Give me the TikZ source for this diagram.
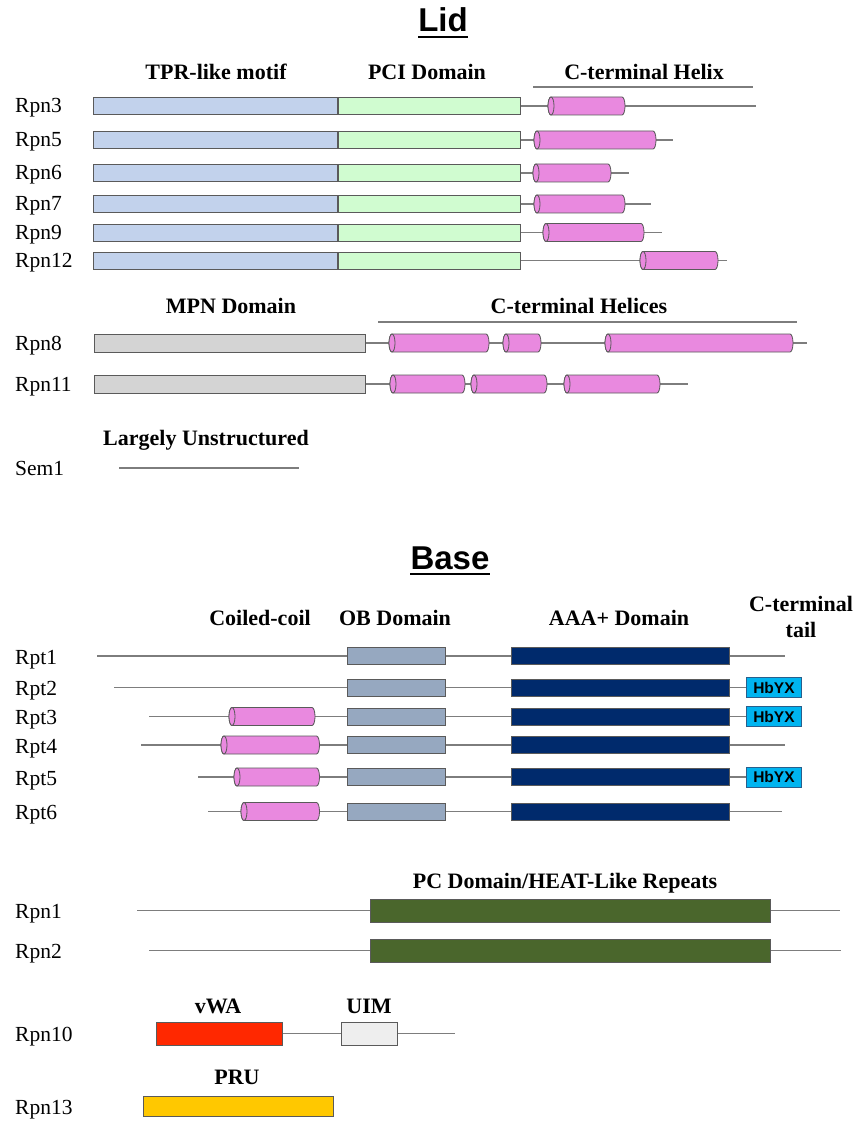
\documentclass[tikz,border=0pt]{standalone}
\usepackage{fontspec}
\setmainfont{Liberation Serif}
\setsansfont{Liberation Sans}
\usetikzlibrary{calc}
\pgfdeclarelayer{bg}
\pgfsetlayers{bg,main}
\definecolor{tpr}{RGB}{194,210,236}
\definecolor{pci}{RGB}{208,252,208}
\definecolor{helixpink}{RGB}{233,137,223}
\definecolor{mpn}{RGB}{212,212,212}
\definecolor{obc}{RGB}{150,168,192}
\definecolor{aaa}{RGB}{0,42,108}
\definecolor{hbfill}{RGB}{0,180,240}
\definecolor{hbedge}{RGB}{40,95,140}
\definecolor{pcg}{RGB}{74,102,44}
\definecolor{vwa}{RGB}{255,40,0}
\definecolor{uim}{RGB}{238,238,238}
\definecolor{pru}{RGB}{255,200,0}
\definecolor{bbgray}{RGB}{125,125,125}
\definecolor{edgegray}{RGB}{90,90,90}
\newcommand\helix[4]{%
  \draw[cyl] (#2+3,#4+9) -- (#3-3,#4+9) arc[start angle=90,end angle=-90,x radius=3,y radius=9] -- (#2+3,#4-9) arc[start angle=270,end angle=90,x radius=3,y radius=9] -- cycle;
  \draw[cyl] (#2+3,#4) ellipse[x radius=3,y radius=9];
  \coordinate (#1) at ({(#2+#3)/2},#4);
}
\begin{document}
\begin{tikzpicture}[x=1pt,y=1pt,
  lbl/.style={font=\fontsize{21.5}{22}\selectfont, anchor=base west, inner sep=0},
  hdr/.style={font=\bfseries\fontsize{22}{22}\selectfont, anchor=base, inner sep=0},
  ttl/.style={font=\sffamily\bfseries\fontsize{33}{33}\selectfont, anchor=base, inner sep=0},
  bb/.style={draw=bbgray, line width=1.3pt},
  hline/.style={draw=bbgray, line width=1.3pt},
  dom/.style={draw=edgegray, line width=0.9pt, anchor=west, inner sep=0, minimum height=17pt},
  cyl/.style={draw=edgegray, fill=helixpink, line width=0.8pt},
  hb/.style={draw=hbedge, fill=hbfill, line width=0.9pt, font=\sffamily\bfseries\fontsize{15.5}{15.5}\selectfont, minimum width=55pt, minimum height=20pt, inner sep=0, anchor=west}
]
\useasboundingbox (0,0) rectangle (855,-1123);
\begin{pgfonlayer}{bg}
\fill[white] (0,0) rectangle (855,-1123);
\end{pgfonlayer}

% ---------------- Lid ----------------
\node[ttl] (lid) at (443,-32) {Lid};
\draw[line width=2.4pt] ($(lid.base west)+(0,-5)$) -- ($(lid.base east)+(0,-5)$);

\node[hdr] (htpr) at (216,-80) {TPR-like motif};
\node[hdr] (hpci) at (427,-80) {PCI Domain};
\node[hdr] (hcth) at (644,-80) {C-terminal Helix};
\coordinate (hl1a) at (533,-87); \coordinate (hl1b) at (753,-87);
\draw[hline] (hl1a) -- (hl1b);

\foreach \n/\y/\a/\b/\e in {Rpn3/106/548/625/756, Rpn5/140/534/656/673, Rpn6/173/533/611/629, Rpn7/204/534/625/651, Rpn9/232.5/543/644/662, Rpn12/260.5/640/718/727}{
  \node[lbl] (l\n) at (15,-\y-7) {\n};
  \node[dom, fill=tpr, minimum width=244pt] (t\n) at (93,-\y) {};
  \node[dom, fill=pci, minimum width=182pt] (p\n) at (t\n.east) {};
  \coordinate (e\n) at (\e,-\y);
  \begin{pgfonlayer}{bg}\draw[bb] (p\n.east) -- (e\n);\end{pgfonlayer}
  \helix{h\n}{\a}{\b}{-\y}
}

\node[hdr] (hmpn) at (231,-313) {MPN Domain};
\node[hdr] (hcths) at (579,-313) {C-terminal Helices};
\coordinate (hl2a) at (378,-322); \coordinate (hl2b) at (797,-322);
\draw[hline] (hl2a) -- (hl2b);

% Rpn8
\node[lbl] (lRpn8) at (15,-350) {Rpn8};
\node[dom, fill=mpn, minimum width=271pt, minimum height=18pt] (mRpn8) at (94,-343) {};
\coordinate (eRpn8) at (807,-343);
\begin{pgfonlayer}{bg}\draw[bb] (mRpn8.east) -- (eRpn8);\end{pgfonlayer}
\helix{h8a}{389}{489}{-343}
\helix{h8b}{503}{541}{-343}
\helix{h8c}{605}{793}{-343}

% Rpn11
\node[lbl] (lRpn11) at (15,-391) {Rpn11};
\node[dom, fill=mpn, minimum width=271pt, minimum height=18pt] (mRpn11) at (94,-384) {};
\coordinate (eRpn11) at (688,-384);
\begin{pgfonlayer}{bg}\draw[bb] (mRpn11.east) -- (eRpn11);\end{pgfonlayer}
\helix{h11a}{390}{465}{-384}
\helix{h11b}{471}{547}{-384}
\helix{h11c}{564}{660}{-384}

% Sem1
\node[hdr] (hlu) at (206,-445) {Largely Unstructured};
\node[lbl] (lSem1) at (15,-475) {Sem1};
\coordinate (sSem1) at (119,-468); \coordinate (eSem1) at (299,-468);
\draw[bb] (sSem1) -- (eSem1);

% ---------------- Base ----------------
\node[ttl] (base) at (450,-569) {Base};
\draw[line width=2.4pt] ($(base.base west)+(0,-5)$) -- ($(base.base east)+(0,-5)$);

\node[hdr] (hcc) at (260,-625) {Coiled-coil};
\node[hdr] (hob) at (395,-625) {OB Domain};
\node[hdr] (haaa) at (619,-625) {AAA+ Domain};
\node[hdr] (hct1) at (801,-611) {C-terminal};
\node[hdr] (hct2) at (801,-637) {tail};

\foreach \n/\y/\s/\e in {Rpt1/656/97/785, Rpt2/687.5/114/746, Rpt3/716.5/149/746, Rpt4/745/141/785, Rpt5/777/198/746, Rpt6/811.5/208/782}{
  \node[lbl] (l\n) at (15,-\y-8) {\n};
  \node[dom, fill=obc, minimum width=98pt] (o\n) at (347,-\y) {};
  \node[dom, fill=aaa, minimum width=218pt] (a\n) at (511,-\y) {};
  \coordinate (s\n) at (\s,-\y);
  \coordinate (e\n) at (\e,-\y);
  \begin{pgfonlayer}{bg}\draw[bb] (s\n) -- (e\n);\end{pgfonlayer}
}
\node[hb] (hbRpt2) at (746,-687.5) {HbYX};
\node[hb] (hbRpt3) at (746,-716.5) {HbYX};
\node[hb] (hbRpt5) at (746,-777) {HbYX};
\helix{cc3}{229}{315}{-716.5}
\helix{cc4}{221}{319.5}{-745}
\helix{cc5}{234}{319.5}{-777}
\helix{cc6}{241}{319.5}{-811.5}

% Rpn1 / Rpn2
\node[hdr] (hpc) at (565,-888) {PC Domain/HEAT-Like Repeats};
\foreach \n/\y/\s/\e in {Rpn1/910.5/137/839.5, Rpn2/950.5/149/841}{
  \node[lbl] (l\n) at (15,-\y-8) {\n};
  \node[dom, fill=pcg, minimum width=400pt, minimum height=23pt] (g\n) at (370,-\y) {};
  \coordinate (s\n) at (\s,-\y);
  \coordinate (e\n) at (\e,-\y);
  \begin{pgfonlayer}{bg}\draw[bb] (s\n) -- (e\n);\end{pgfonlayer}
}

% Rpn10
\node[hdr] (hvwa) at (218,-1013) {vWA};
\node[hdr] (huim) at (369,-1013) {UIM};
\node[lbl] (lRpn10) at (15,-1041) {Rpn10};
\node[dom, fill=vwa, minimum width=126pt, minimum height=23pt] (vRpn10) at (156,-1033.5) {};
\node[dom, fill=uim, minimum width=56pt, minimum height=23pt] (uRpn10) at (341,-1033.5) {};
\coordinate (eRpn10) at (455,-1033.5);
\begin{pgfonlayer}{bg}\draw[bb] (vRpn10.east) -- (eRpn10);\end{pgfonlayer}

% Rpn13
\node[hdr] (hpru) at (237,-1084) {PRU};
\node[lbl] (lRpn13) at (15,-1114) {Rpn13};
\node[dom, fill=pru, minimum width=190pt, minimum height=20pt] (yRpn13) at (142.5,-1106) {};
\end{tikzpicture}
\end{document}
